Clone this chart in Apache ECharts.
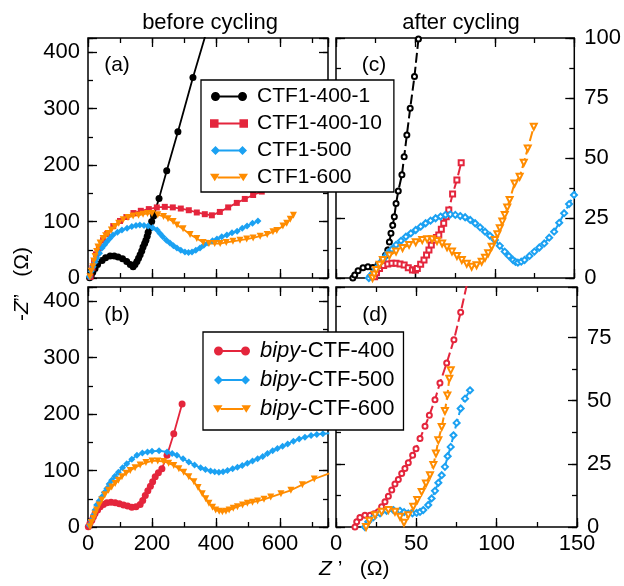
<!DOCTYPE html>
<html><head><meta charset="utf-8">
<script src="https://cdn.jsdelivr.net/npm/echarts@6/dist/echarts.min.js"></script>
<style>html,body{margin:0;padding:0;background:#fff}#c{width:624px;height:586px}</style>
</head><body><div id="c"></div>
<script>
// ---------- data: panel (a) before cycling, CTF1 ----------
const a_ctf1_400_1 = [[5,0.5],[10,4],[15,10],[22,17],[30,24],[44,31],[55,36],[69,39],[82,39],[94,37],[108,34],[121,29],[132,24],[141,20],[147,24],[153,29],[158,35],[163,41],[168,48],[172,55],[177,61],[181,67],[185,74],[188,81],[193,89],[199,100],[205,110],[222,141],[246,190],[281,259],[328,355],[375,445]];
const a_ctf1_400_10 = [[8,2],[14,18],[19,30],[25,42],[34,53],[47,67],[60,78],[79,92],[100,101],[120,108],[142,115],[165,119],[190,122],[215,125],[240,126],[265,125],[290,123],[315,120],[340,116],[365,113],[387,111],[412,117],[438,125],[465,133],[490,140],[516,147],[543,153],[575,159],[610,167]];
const a_ctf1_500 = [[4,2],[10,12],[16,20],[22,28],[28,35],[36,44],[44,53],[52,59],[59,64],[68,70],[78,76],[92,81],[106,85],[122,88],[137,91],[150,93],[162,94],[175,93],[188,92],[202,89],[216,85],[225,79],[234,73],[245,67],[256,62],[267,57],[278,53],[290,49],[303,46],[314,45],[325,46],[337,49],[350,53],[362,58],[375,62],[389,66],[403,69],[418,73],[434,76],[450,80],[466,83],[482,88],[497,92],[514,97],[531,101]];
const a_ctf1_600 = [[6,2],[10,12],[15,20],[18,30],[22,38],[27,47],[31,55],[38,62],[47,70],[55,75],[63,79],[73,85],[84,91],[96,97],[110,103],[125,107],[141,110],[158,111],[172,113],[186,114],[200,114],[218,112],[236,109],[250,105],[266,100],[278,94],[297,87],[319,77],[340,70],[360,63],[378,61],[396,61],[413,61],[432,63],[453,65],[475,67],[496,69],[516,71],[538,74],[560,77],[578,82],[590,84],[609,92],[621,97],[632,104],[642,111]];
// ---------- panel (b) before cycling, bipy-CTF ----------
const b_bipy_400 = [[1,0.5],[6,6],[12,12],[17,18],[22,24],[30,30],[38,36],[48,40],[59,43],[72,44],[85,43],[98,41],[111,39],[124,37],[137,35],[150,36],[163,40],[171,47],[179,56],[187,64],[195,72],[202,80],[210,89],[220,96],[231,103],[247,127],[268,165],[294,218]];
const b_bipy_500 = [[4,3],[10,12],[17,21],[22,30],[27,39],[35,46],[43,53],[51,61],[59,68],[66,76],[74,83],[84,90],[95,97],[108,105],[121,112],[137,120],[153,127],[170,131],[186,133],[200,134],[222,135],[247,133],[263,130],[278,127],[297,121],[315,115],[333,110],[352,105],[367,102],[383,99],[396,98],[409,97],[422,98],[436,100],[452,103],[467,106],[482,109],[498,113],[514,117],[530,121],[546,125],[561,130],[577,135],[592,139],[608,143],[624,147],[642,152],[660,156],[678,159],[697,162],[715,164],[734,165],[754,166]];
const b_bipy_600 = [[6,0.5],[11,8],[17,15],[22,23],[27,30],[35,39],[43,48],[53,57],[64,65],[74,71],[85,77],[95,83],[106,89],[119,95],[132,100],[147,105],[163,110],[181,114],[200,117],[218,117],[236,116],[252,113],[268,109],[284,103],[299,97],[315,89],[331,80],[344,70],[357,59],[368,50],[378,42],[389,35],[399,30],[410,28],[420,27],[431,28],[441,30],[454,33],[467,36],[483,39],[498,42],[514,44],[530,46],[550,49],[571,53],[603,59],[634,65],[670,75],[707,85],[754,95]];
// ---------- panel (c) after cycling, CTF1 ----------
const c_ctf1_400_1 = [[10.6,0],[11.8,1.2],[13.9,3],[17,4.3],[20.1,4.7],[23.2,4.4],[26.5,5.5],[29.5,7.5],[31.2,9.5],[32.6,11.7],[33.6,15],[34.6,18.6],[35.7,22],[36.7,25.5],[37.8,31],[39.2,36.2],[41.5,43],[42.9,50.5],[44.6,59.6],[46.7,70.7],[49.4,84],[51.9,99.6]];
const c_ctf1_400_10 = [[24.3,0.5],[25.5,2.2],[27.4,4],[30,5.2],[32.6,5.8],[35.2,6.1],[37.8,6.1],[40.3,5.8],[42.9,5.4],[45.5,4.3],[48.1,3.3],[50,3.3],[51.2,4],[53.3,5.7],[55.4,7.5],[57,9.6],[58.5,11.7],[60,13.8],[61.6,15.8],[63.2,16.9],[64.7,17.9],[66.3,20.3],[67.8,22.8],[69.4,25.5],[71,28.3],[73.4,35],[76.1,40.8],[78.8,48]];
const c_ctf1_500 = [[20.7,0],[21.8,1],[23.2,2],[25.3,4],[27.4,6.1],[30,8.2],[32.6,10.3],[35.2,12],[37.8,13.8],[40.9,15.5],[44,17.2],[47.1,18.6],[50.2,20],[53.3,21.4],[56.4,22.8],[59.5,23.9],[62.7,24.9],[65.8,25.6],[68.9,26.3],[72,26.5],[75.1,26.3],[78.2,25.8],[81.3,25.3],[84.5,24.2],[87.6,22.8],[90.7,21.1],[93.8,19.3],[96.9,17.6],[100,15.8],[103.1,13.4],[106.2,11],[108.8,9.2],[111.4,7.5],[113,6.7],[114.5,6.4],[116.6,6.8],[118.7,7.5],[121.8,9.2],[124.9,11],[128,12.7],[131.1,14.4],[134.2,16.8],[137.3,19.3],[140.5,23],[143.6,27],[146.7,30.8],[149.8,34.6],[151,36]];
const c_ctf1_600 = [[23,0],[24,1.5],[25.3,3.3],[27.4,5.5],[29.5,7.5],[33.6,9.4],[37.8,11],[41.9,12.5],[46,13.8],[50.2,14.9],[54.3,15.8],[57.4,16.1],[60.5,16.1],[63.6,15.4],[66.8,14.4],[69.9,12.8],[73,11],[76.1,9.2],[79.2,7.5],[82.3,5.9],[85.4,4.7],[88.5,5.3],[91.7,6.8],[93.8,8.4],[95.8,10.3],[98,13],[100,15.8],[101.6,18.2],[103.1,20.7],[104.7,23.5],[106.2,26.3],[107.8,29.4],[109.3,32.5],[112.4,39.4],[115.6,42.2],[118.2,48],[120.7,54],[124.5,63]];
// ---------- panel (d) after cycling, bipy-CTF ----------
const d_bipy_400 = [[11.8,0],[12.9,2.1],[14.9,3.8],[18,4.7],[21.2,4.7],[23.8,5.2],[26.3,6],[28.4,8],[30.5,10],[32.6,12.2],[34.7,14.6],[36.7,17],[38.8,18.8],[40.9,21.2],[42.9,23.2],[45,25.4],[47.7,28.4],[49.8,31],[52.3,35],[55.4,39.9],[58.1,44.2],[61.6,50.4],[64.7,57],[68.9,64.9],[73.4,74.1],[77.6,85],[81.3,95.5]];
const d_bipy_500 = [[18,0],[20.1,2.1],[23.2,3.8],[27.4,5.4],[31.5,6.4],[35.7,6.7],[39.8,6.4],[42.4,5.9],[45,5.4],[47.6,5.4],[50.2,5.6],[52.3,6],[54.3,6.7],[57.4,8.7],[59.5,11.3],[61.6,14.3],[63.7,17.5],[65.8,20.5],[67.8,23.8],[69.5,28],[71.4,31.7],[73.1,36.3],[75.1,41.2],[77.6,46.9],[80.3,50.8],[83.4,54.1]];
const d_bipy_600 = [[18.7,0],[20.7,2.5],[24.3,4.7],[28.4,6],[32.6,6.7],[36.7,6],[39.8,4.1],[42.3,1.7],[45,4.7],[48.1,8],[50.6,10.7],[53.3,13.9],[56,17.2],[58.5,20.5],[60.6,24.5],[62.2,29.1],[63.7,34.3],[65.8,39.6],[67.8,45.9],[69.3,52.1],[70.5,58.7],[71.4,62]];

// ---------- names and tick labels ----------
const ctfNames = ['CTF1-400-1','CTF1-400-10','CTF1-500','CTF1-600'];
const bipyNames = ['bipy-CTF-400','bipy-CTF-500','bipy-CTF-600'];
const leftXTicks = [0,200,400,600];
const leftYTicks = [0,100,200,300,400];
const rightXTicks = [0,50,100,150];
const rightYTicksC = [0,25,50,75,100];
const rightYTicksD = [0,25,50,75];

const FONT = '"Liberation Sans", Arial, Helvetica, sans-serif';
const K='#000000', R='#e4253c', B='#1ba1f2', O='#ff8c00';

const ICON = {
  circle: 'path://M0,5A5,5,0,1,1,10,5A5,5,0,1,1,0,5Z M30,5A5,5,0,1,1,40,5A5,5,0,1,1,30,5Z M9,4L31,4L31,6L9,6Z',
  rect: 'path://M0,0.5L9,0.5L9,9.5L0,9.5Z M31,0.5L40,0.5L40,9.5L31,9.5Z M9,4L31,4L31,6L9,6Z',
  diamond: 'path://M0,5L5,0L10,5L5,10Z M30,5L35,0L40,5L35,10Z M9,4L31,4L31,6L9,6Z',
  tri: 'path://M0,1L10,1L5,9Z M30,1L40,1L35,9Z M8,4L32,4L32,6L8,6Z'
};

const grids = [
  {left:88, top:38, width:240, height:240},   // a
  {left:88, top:287, width:240, height:240},  // b
  {left:336, top:38, width:241, height:240},  // c
  {left:336, top:287, width:241, height:240}  // d
].map(g => Object.assign(g, {show:true, borderColor:'#000', borderWidth:1.5, backgroundColor:'transparent'}));

const xAxes = [], yAxes = [];
function mkAxis(gi, pos, r, step, len, ticks, margin) {
  return {
    type:'value', gridIndex:gi, position:pos, min:r.min, max:r.max, interval:step, silent:true,
    axisLine:{show:false, onZero:false},
    splitLine:{show:false},
    axisTick:{show:true, inside:true, length:len, lineStyle:{color:'#000', width:1.3}},
    axisLabel: ticks ? {show:true, interval:0, margin:margin, color:'#000', fontSize:22, fontFamily:FONT,
      showMinLabel:true, showMaxLabel:true, hideOverlap:false,
      formatter: v => ticks.some(t => Math.abs(t - v) < 1e-6) ? String(v) : ''} : {show:false}
  };
}
function addPanel(gi, xr, yr, xTicks, yTicks, ySide) {
  const xi = xAxes.length, yi = yAxes.length;
  const yOther = ySide === 'left' ? 'right' : 'left';
  xAxes.push(mkAxis(gi,'bottom',xr,xr.major,9,xTicks,6));
  xAxes.push(mkAxis(gi,'bottom',xr,xr.minor,5,null));
  xAxes.push(mkAxis(gi,'top',xr,xr.major,9,null));
  xAxes.push(mkAxis(gi,'top',xr,xr.minor,5,null));
  yAxes.push(mkAxis(gi,ySide,yr,yr.major,9,yTicks, ySide==='left'?8:10));
  yAxes.push(mkAxis(gi,ySide,yr,yr.minor,5,null));
  yAxes.push(mkAxis(gi,yOther,yr,yr.major,9,null));
  yAxes.push(mkAxis(gi,yOther,yr,yr.minor,5,null));
  return {xi, yi};
}
const xL = {min:0,max:750,major:200,minor:100};
const yL = {min:0,max:425,major:100,minor:50};
const xR = {min:0,max:150,major:50,minor:25};
const yC = {min:0,max:100,major:25,minor:12.5};
const yD = {min:0,max:95,major:25,minor:12.5};
const pA = addPanel(0,xL,yL,null,leftYTicks,'left');
const pB = addPanel(1,xL,yL,leftXTicks,leftYTicks,'left');
const pC = addPanel(2,xR,yC,null,rightYTicksC,'right');
const pD = addPanel(3,xR,yD,rightXTicks,rightYTicksD,'right');

function ser(name, data, color, sym, size, rot, p, after) {
  return {
    type:'line', name, data, xAxisIndex:p.xi, yAxisIndex:p.yi,
    symbol: after ? 'empty' + sym : sym, symbolSize:size, symbolRotate:rot,
    showSymbol:true, showAllSymbol:true, clip:true, animation:false, silent:true,
    lineStyle:{color, width: after ? 2 : 1.8, type: after ? [10,4] : 'solid'},
    itemStyle:{color, borderColor:color, borderWidth: after ? 1.1 : 0},
    emphasis:{disabled:true}
  };
}
const series = [
  ser(ctfNames[0], a_ctf1_400_1, K, 'circle', 7, 0, pA, false),
  ser(ctfNames[1], a_ctf1_400_10, R, 'rect', 6, 0, pA, false),
  ser(ctfNames[2], a_ctf1_500, B, 'diamond', 7, 0, pA, false),
  ser(ctfNames[3], a_ctf1_600, O, 'triangle', 7, 180, pA, false),
  ser(bipyNames[0], b_bipy_400, R, 'circle', 7, 0, pB, false),
  ser(bipyNames[1], b_bipy_500, B, 'diamond', 7, 0, pB, false),
  ser(bipyNames[2], b_bipy_600, O, 'triangle', 7, 180, pB, false),
  ser(ctfNames[0]+' after', c_ctf1_400_1, K, 'Circle', 5, 0, pC, true),
  ser(ctfNames[1]+' after', c_ctf1_400_10, R, 'Rect', 5, 0, pC, true),
  ser(ctfNames[2]+' after', c_ctf1_500, B, 'Diamond', 6, 0, pC, true),
  ser(ctfNames[3]+' after', c_ctf1_600, O, 'Triangle', 6, 180, pC, true),
  ser(bipyNames[0]+' after', d_bipy_400, R, 'Circle', 5, 0, pD, true),
  ser(bipyNames[1]+' after', d_bipy_500, B, 'Diamond', 6, 0, pD, true),
  ser(bipyNames[2]+' after', d_bipy_600, O, 'Triangle', 6, 180, pD, true)
];

const legendBase = {
  orient:'vertical', itemWidth:38, itemHeight:9, backgroundColor:'#fff',
  borderColor:'#000', borderWidth:1.3, borderRadius:0, selectedMode:false, z:10
};
const legends = [
  Object.assign({}, legendBase, {
    left:201, top:80, itemGap:6, padding:[6,12,4,9],
    data:[{name:ctfNames[0],icon:ICON.circle},{name:ctfNames[1],icon:ICON.rect},{name:ctfNames[2],icon:ICON.diamond},{name:ctfNames[3],icon:ICON.tri}],
    textStyle:{fontSize:21, fontFamily:FONT, color:'#000', padding:[0,0,0,4]}
  }),
  Object.assign({}, legendBase, {
    left:203, top:332, itemGap:7, padding:[8,9,10,10],
    data:[{name:bipyNames[0],icon:ICON.circle},{name:bipyNames[1],icon:ICON.diamond},{name:bipyNames[2],icon:ICON.tri}],
    formatter: n => n.replace('bipy', '{i|bipy}'),
    textStyle:{fontSize:22, fontFamily:FONT, color:'#000', padding:[0,0,0,4],
      rich:{i:{fontStyle:'italic', fontSize:22, fontFamily:FONT, color:'#000'}}}
  })
];

function txt(x, y, text, size, extra) {
  return Object.assign({type:'text', x, y, silent:true, z:20,
    style:{text, fill:'#000', font: size + 'px ' + FONT, align:'center', verticalAlign:'middle',
      rich:{i:{fontStyle:'italic', fontSize:size, fontFamily:FONT, fill:'#000'}}}}, extra || {});
}
const graphics = [
  txt(210, 23, 'before cycling', 22),
  txt(461, 23, 'after cycling', 22),
  txt(117, 65, '(a)', 21),
  txt(117, 315, '(b)', 21),
  txt(374, 65, '(c)', 21),
  txt(375, 315, '(d)', 21),
  (function(){ const t = txt(319, 569, '{i|Z} \u2019   (\u03A9)', 21); t.style.align='left'; return t; })(),
  (function(){ const t = txt(22, 321, '-{i|Z}\u201D   (\u03A9)', 21, {rotation:Math.PI/2}); t.style.align='left'; return t; })()
];

const chart = echarts.init(document.getElementById('c'), null, {renderer:'canvas'});
chart.setOption({
  animation:false,
  backgroundColor:'#fff',
  grid: grids,
  xAxis: xAxes,
  yAxis: yAxes,
  legend: legends,
  series: series,
  graphic: graphics
});
</script></body></html>
